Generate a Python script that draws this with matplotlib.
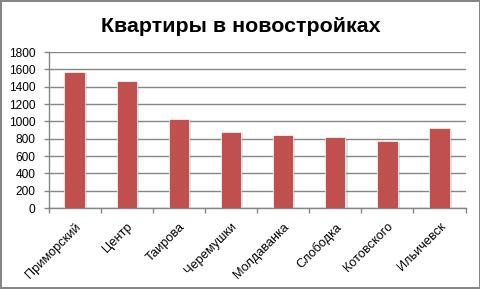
import matplotlib
matplotlib.use("Agg")
import matplotlib.pyplot as plt
import matplotlib.patheffects as pe
import numpy as np

districts = ["Приморский", "Центр", "Таирова", "Черемушки", "Молдаванка",
             "Слободка", "Котовского", "Ильичевск"]
flats = [1570, 1460, 1030, 880, 840, 815, 770, 920]
y_ticks = list(range(0, 1801, 200))

plt.rcParams["font.family"] = ["Liberation Sans", "DejaVu Sans"]

fig = plt.figure(figsize=(4.81, 2.89), dpi=100)
fig.patch.set_edgecolor("#868686")
fig.patch.set_linewidth(1.5)
ax = fig.add_axes([0.101, 0.280, 0.867, 0.540])

x = np.arange(len(districts))
bars = ax.bar(x, flats, width=0.39, color="#C0504D", edgecolor="white",
              linewidth=0.5, zorder=3)
for b in bars:
    b.set_path_effects([pe.SimplePatchShadow(offset=(1.5, -1), alpha=0.25,
                                             shadow_rgbFace="gray"),
                        pe.Normal()])

ax.set_xlim(-0.5, len(districts) - 0.5)
ax.set_ylim(0, 1800)
ax.set_yticks(y_ticks)
ax.set_yticklabels([str(v) for v in y_ticks], fontsize=8.6)
ax.yaxis.grid(True, color="#868686", linewidth=1, zorder=0)
ax.set_axisbelow(True)

ax.set_xticks(x)
ax.set_xticklabels(districts, rotation=45, ha="right", rotation_mode="anchor",
                   fontsize=9.2)
ax.tick_params(axis="x", length=0, pad=9)
ax.set_xticks(np.arange(-0.5, len(districts)), minor=True)
ax.tick_params(axis="x", which="minor", length=3.5, color="#868686", width=1)
ax.tick_params(axis="y", length=3.6, color="#868686", width=1, pad=6)

for s in ["top", "right"]:
    ax.spines[s].set_visible(False)
for s in ["left", "bottom"]:
    ax.spines[s].set_color("#868686")
    ax.spines[s].set_linewidth(1)

fig.text(0.5, 0.889, "Квартиры в новостройках", ha="center", va="baseline",
         fontsize=15.4, fontweight="bold")

fig.savefig("out.png", dpi=100, edgecolor=fig.get_edgecolor())
